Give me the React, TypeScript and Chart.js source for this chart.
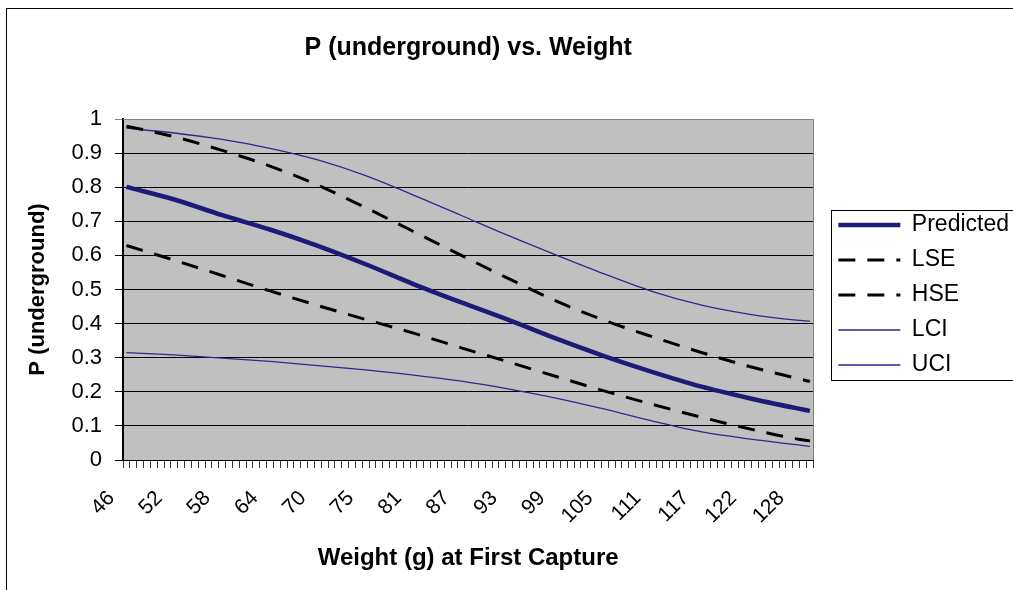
import React, { useEffect, useRef } from 'react';
import { Chart, registerables } from 'chart.js';

Chart.register(...registerables);

// Weight (g) at first capture: one category per tick mark
const WEIGHTS = [
  '46.1', '46.9', '47.8', '48.6', '49.4', '50.3', '51.1', '52.0', '52.8', '53.6',
  '54.5', '55.3', '56.1', '57.0', '57.8', '58.7', '59.5', '60.3', '61.2', '62.0',
  '62.9', '63.7', '64.5', '65.4', '66.2', '67.0', '67.9', '68.7', '69.6', '70.4',
  '71.2', '72.1', '72.9', '73.8', '74.6', '75.4', '76.3', '77.1', '77.9', '78.8',
  '79.6', '80.5', '81.3', '82.1', '83.0', '83.8', '84.7', '85.5', '86.3', '87.2',
  '88.0', '88.8', '89.7', '90.5', '91.4', '92.2', '93.0', '93.9', '94.7', '95.6',
  '96.4', '97.2', '98.1', '98.9', '99.8', '100.6', '101.4', '102.3', '103.1', '103.9',
  '104.8', '105.6', '106.5', '107.3', '108.1', '109.0', '109.8', '110.7', '111.5', '112.3',
  '113.2', '114.0', '114.8', '115.7', '116.5', '117.4', '118.2', '119.0', '119.9', '120.7',
  '121.6', '122.4', '123.2', '124.1', '124.9', '125.7', '126.6', '127.4', '128.3', '129.1',
  '129.9',
];
const LABEL_EVERY = 7;

const SAMPLE_IDX = [0, 7, 14, 21, 28, 35, 42, 49, 56, 63, 70, 77, 84, 91, 98, 100];

const PREDICTED = [0.801, 0.764, 0.718, 0.676, 0.628, 0.574, 0.516, 0.462, 0.410, 0.355, 0.304, 0.258, 0.216, 0.182, 0.152, 0.144];
const LSE = [0.629, 0.586, 0.541, 0.496, 0.453, 0.412, 0.372, 0.329, 0.287, 0.244, 0.202, 0.163, 0.126, 0.092, 0.062, 0.056];
const HSE = [0.979, 0.948, 0.908, 0.862, 0.806, 0.740, 0.670, 0.600, 0.531, 0.465, 0.409, 0.361, 0.316, 0.275, 0.240, 0.230];
const LCI = [0.315, 0.308, 0.299, 0.289, 0.277, 0.264, 0.249, 0.231, 0.208, 0.181, 0.149, 0.114, 0.083, 0.062, 0.045, 0.040];
const UCI = [0.973, 0.959, 0.940, 0.914, 0.880, 0.834, 0.777, 0.717, 0.657, 0.600, 0.545, 0.494, 0.455, 0.428, 0.410, 0.407];

const FONT = '"Liberation Sans", Arial, Helvetica, sans-serif';
const NAVY = '#1c1c78';
const NAVY_THIN = '#2a2a8a';

const CANVAS_W = 1019;
const CANVAS_H = 590;

function points(vals: number[]) {
  return SAMPLE_IDX.map((k, i) => ({ x: WEIGHTS[k], y: vals[i] }));
}

const plotFrame = {
  id: 'plotFrame',
  beforeDraw(chart: any) {
    const { ctx, chartArea: a } = chart;
    ctx.save();
    ctx.fillStyle = '#c0c0c0';
    ctx.fillRect(a.left, a.top, a.right - a.left, a.bottom - a.top);
    ctx.restore();
  },
  beforeDatasetsDraw(chart: any) {
    const { ctx, chartArea: a } = chart;
    ctx.save();
    ctx.strokeStyle = '#808080';
    ctx.lineWidth = 1;
    ctx.beginPath();
    ctx.moveTo(Math.round(a.left), Math.round(a.top) + 0.5);
    ctx.lineTo(Math.round(a.right) + 0.5, Math.round(a.top) + 0.5);
    ctx.lineTo(Math.round(a.right) + 0.5, Math.round(a.bottom));
    ctx.stroke();
    ctx.restore();
  },
  afterDraw(chart: any) {
    const lg = chart.legend;
    if (!lg || !lg.legendHitBoxes || !lg.legendHitBoxes.length) return;
    const hb = lg.legendHitBoxes;
    const first = hb[0];
    const last = hb[hb.length - 1];
    const { ctx } = chart;
    ctx.save();
    ctx.strokeStyle = '#000';
    ctx.lineWidth = 1;
    const x = Math.round(first.left - 7) + 0.5;
    const y = Math.round(first.top - 4) + 0.5;
    const b = Math.round(last.top + last.height + 3) + 0.5;
    ctx.strokeRect(x, y, chart.width + 20 - x, b - y);
    ctx.restore();
  },
};

export default function App() {
  const ref = useRef<HTMLCanvasElement | null>(null);

  useEffect(() => {
    if (!ref.current) return;
    const baseLabels = (Chart.defaults as any).plugins.legend.labels.generateLabels;
    const chart = new Chart(ref.current, {
      type: 'line',
      data: {
        labels: WEIGHTS,
        datasets: [
          {
            label: 'Predicted',
            data: points(PREDICTED) as any,
            borderColor: NAVY,
            backgroundColor: NAVY,
            borderWidth: 4.5,
            pointRadius: 0,
            cubicInterpolationMode: 'monotone',
          },
          {
            label: 'LSE',
            data: points(LSE) as any,
            borderColor: '#000',
            backgroundColor: '#000',
            borderWidth: 3,
            borderDash: [17, 12],
            pointRadius: 0,
            cubicInterpolationMode: 'monotone',
          },
          {
            label: 'HSE',
            data: points(HSE) as any,
            borderColor: '#000',
            backgroundColor: '#000',
            borderWidth: 3,
            borderDash: [17, 12],
            pointRadius: 0,
            cubicInterpolationMode: 'monotone',
          },
          {
            label: 'LCI',
            data: points(LCI) as any,
            borderColor: NAVY_THIN,
            backgroundColor: NAVY_THIN,
            borderWidth: 1.3,
            pointRadius: 0,
            cubicInterpolationMode: 'monotone',
          },
          {
            label: 'UCI',
            data: points(UCI) as any,
            borderColor: NAVY_THIN,
            backgroundColor: NAVY_THIN,
            borderWidth: 1.3,
            pointRadius: 0,
            cubicInterpolationMode: 'monotone',
          },
        ],
      },
      options: {
        responsive: false,
        animation: false,
        devicePixelRatio: 1,
        layout: { padding: 0 },
        events: [],
        scales: {
          x: {
            type: 'category',
            offset: true,
            grid: {
              display: true,
              offset: true,
              drawOnChartArea: false,
              drawTicks: true,
              tickLength: 8,
              color: '#3a3a3a',
              lineWidth: 1,
            },
            border: { display: true, color: '#000', width: 1 },
            ticks: {
              autoSkip: false,
              minRotation: 45,
              maxRotation: 45,
              padding: 18,
              labelOffset: -15,
              color: '#000',
              font: { family: FONT, size: 21 },
              callback: (_v: any, i: number) =>
                i % LABEL_EVERY === 0 ? String(Math.round(Number(WEIGHTS[i]))) : '',
            },
            title: {
              display: true,
              text: 'Weight (g) at First Capture',
              color: '#000',
              font: { family: FONT, size: 24, weight: 'bold' },
              padding: { top: 0, bottom: 17 },
            },
            afterFit: (s: any) => {
              s.height = 130;
            },
          },
          y: {
            type: 'linear',
            position: 'left',
            min: 0,
            max: 1,
            ticks: {
              stepSize: 0.1,
              padding: 13,
              color: '#000',
              font: { family: FONT, size: 22 },
              callback: (v: any) => String(Math.round(Number(v) * 10) / 10),
            },
            grid: {
              color: (c: any) => (c.tick && c.tick.value === 1 ? '#808080' : '#000'),
              lineWidth: 1,
              tickLength: 8,
              drawTicks: true,
            },
            border: { display: true, color: '#000', width: 2 },
            title: {
              display: true,
              text: 'P (underground)',
              color: '#000',
              font: { family: FONT, size: 22, weight: 'bold' },
              padding: { top: 25, bottom: 0 },
            },
            afterFit: (s: any) => {
              s.width = 123;
            },
          },
          gap: {
            type: 'linear',
            position: 'right',
            display: true,
            grid: { display: false, drawTicks: false },
            border: { display: false },
            ticks: { display: false },
            afterFit: (s: any) => {
              s.width = 13;
            },
          },
        },
        plugins: {
          title: {
            display: true,
            text: 'P (underground) vs. Weight',
            color: '#000',
            fullSize: false,
            font: { family: FONT, size: 25, weight: 'bold' },
            padding: { top: 33, bottom: 56 },
          },
          legend: {
            display: true,
            position: 'right',
            align: 'center',
            maxWidth: 400,
            labels: {
              usePointStyle: true,
              pointStyle: 'line',
              pointStyleWidth: 62,
              boxWidth: 62,
              padding: 12,
              color: '#000',
              font: { family: FONT, size: 23 },
              generateLabels: (ch: any) =>
                baseLabels(ch).map((item: any) => {
                  const ds = ch.data.datasets[item.datasetIndex];
                  return {
                    ...item,
                    lineDash: ds.borderDash || [],
                    lineWidth: ds.borderWidth,
                    strokeStyle: ds.borderColor,
                    lineCap: 'butt',
                  };
                }),
            },
          },
          tooltip: { enabled: false },
        },
      } as any,
      plugins: [plotFrame],
    });
    return () => chart.destroy();
  }, []);

  return (
    <div style={{ position: 'fixed', left: 0, top: 0, width: CANVAS_W, height: CANVAS_H, overflow: 'hidden' }}>
      <div
        style={{
          position: 'absolute',
          left: 6,
          top: 8,
          width: 1100,
          height: 700,
          border: '1px solid #000',
          boxSizing: 'border-box',
          background: '#fff',
        }}
      />
      <canvas
        ref={ref}
        width={CANVAS_W}
        height={CANVAS_H}
        style={{ position: 'absolute', left: 0, top: 0, width: CANVAS_W, height: CANVAS_H }}
      />
    </div>
  );
}
